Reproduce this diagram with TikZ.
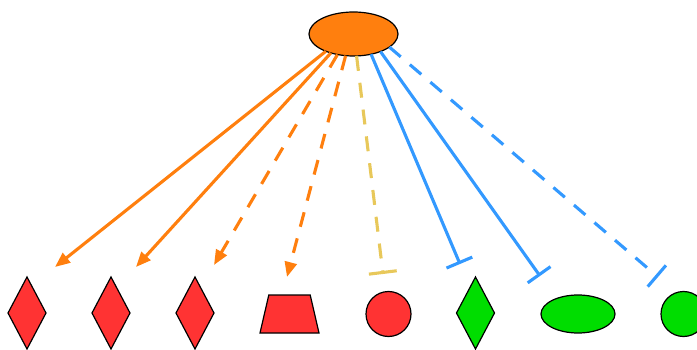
\documentclass[tikz,border=0pt]{standalone}
\usepackage{xcolor}
\usepackage{tikz}
\usetikzlibrary{arrows.meta,shapes.geometric}
\definecolor{fanOrange}{HTML}{FF7F0E}
\definecolor{fanRed}{HTML}{FF3333}
\definecolor{fanGreen}{HTML}{00DD00}
\definecolor{fanBlue}{HTML}{3399FF}
\definecolor{fanYellow}{HTML}{E8C85A}

\begin{document}
\begin{tikzpicture}[x=1pt,y=1pt,
    shp/.style={draw=black,line width=1.2pt,fill=#1,inner sep=0pt,outer sep=0pt},
    dmd/.style={shp=#1,diamond,minimum width=38pt,minimum height=72pt},
    act/.style={-{Triangle[length=15pt,width=12pt]},line width=3.1pt,draw=fanOrange},
    inh/.style={-{Bar[width=28pt]},line width=3.1pt,draw=#1},
    dsh/.style={dash pattern=on 15pt off 12pt}]

\useasboundingbox (0,0) rectangle (697,-350);

% ======================= source node ==================================================
\node[shp=fanOrange,ellipse,minimum width=89pt,minimum height=44pt] (src) at (353.5,-34) {};

% ======================= target nodes =================================================
\node[dmd=fanRed] (r1) at (27,-313) {};
\node[dmd=fanRed] (r2) at (111,-313) {};
\node[dmd=fanRed] (r3) at (195,-313) {};
\node[shp=fanRed,trapezium,trapezium stretches=true,trapezium angle=78,inner sep=2pt,
      minimum width=59pt,minimum height=38pt] (r4) at (289.5,-314) {};
\node[shp=fanRed,circle,minimum size=45pt] (r5) at (388.5,-314) {};
\node[dmd=fanGreen] (g1) at (475.5,-313) {};
\node[shp=fanGreen,ellipse,minimum width=74pt,minimum height=38pt] (g2) at (578,-314) {};
\node[shp=fanGreen,circle,minimum size=45pt] (g3) at (683.5,-314) {};

% ======================= edge ends ====================================================
\coordinate (e1) at (55,-267);
\coordinate (e2) at (136,-267);
\coordinate (e3) at (214,-265);
\coordinate (e4) at (287,-277);
\coordinate (e5) at (383,-274);
\coordinate (e6) at (460,-264);
\coordinate (e7) at (540,-276);
\coordinate (e8) at (658,-277);

% ======================= edges ========================================================
\draw[act]     (src.-148) -- (e1);
\draw[act]     (src.-140) -- (e2);
\draw[act,dsh] (src.-128) -- (e3);
\draw[act,dsh] (src.-110) -- (e4);
\draw[inh=fanYellow,dsh] (src.-82) -- (e5);
\draw[inh=fanBlue]       (src.-49) -- (e6);
\draw[inh=fanBlue]       (src.-33) -- (e7);
\draw[inh=fanBlue,dsh]   (src.-20) -- (e8);

\end{tikzpicture}
\end{document}
